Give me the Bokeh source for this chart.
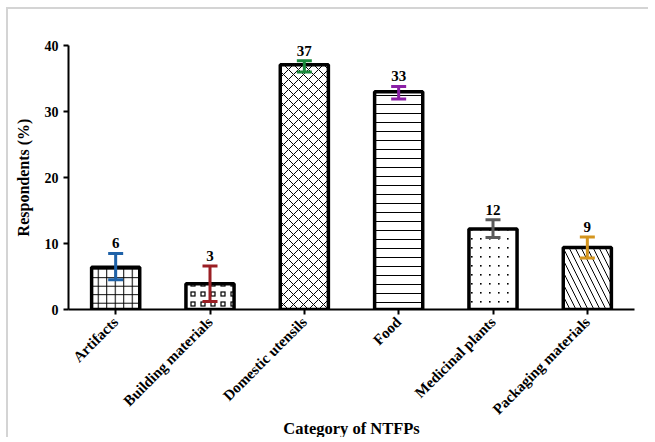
import math
from urllib.parse import quote
from bokeh.plotting import figure
from bokeh.models import ColumnDataSource, FactorRange, Range1d, Title, FixedTicker, ImageURLTexture
from bokeh.core.properties import value
from bokeh.embed import file_html
from bokeh.resources import INLINE

categories = ["Artifacts", "Building materials", "Domestic utensils", "Food",
              "Medicinal plants", "Packaging materials"]
means = [6.4, 3.9, 37.1, 33.0, 12.2, 9.4]
err_low = [4.5, 1.2, 36.0, 31.9, 10.9, 7.8]
err_high = [8.5, 6.6, 37.7, 33.8, 13.6, 11.0]
value_labels = ["6", "3", "37", "33", "12", "9"]
err_colors = ["#1f62a8", "#9b1f24", "#1a8a3c", "#8b1fa6", "#5a5a5a", "#d4951e"]
hatches = ["cross", "squares", "diagonal_cross", "horizontal_line", "dots", "left_diagonal_line"]
hatch_scales = [8.5, 9, 10, 9, 9, 12]
y_ticks = [0, 10, 20, 30, 40]

FONT = "Liberation Serif"


def svg_tile(inner, size):
    svg = ("<svg xmlns='http://www.w3.org/2000/svg' width='%d' height='%d'>%s</svg>"
           % (size, size, inner))
    return "data:image/svg+xml;charset=utf-8," + quote(svg)


dots_tex = ImageURLTexture(url=svg_tile("<rect x='4' y='4' width='1.6' height='1.6' fill='black'/>", 9),
                           repetition="repeat")
squares_tex = ImageURLTexture(url=svg_tile("<rect x='3' y='3' width='4' height='4' fill='white' "
                                           "stroke='black' stroke-width='1.2'/>", 10),
                              repetition="repeat")

src = ColumnDataSource(dict(cat=categories, mean=means, lo=err_low, hi=err_high,
                            lab=value_labels, ec=err_colors, hp=hatches, hs=hatch_scales))

p = figure(x_range=FactorRange(*categories, range_padding=0, factor_padding=0),
           y_range=Range1d(0, 40), width=642, height=430,
           output_backend="svg", toolbar_location=None,
           min_border_left=60, min_border_right=16, min_border_top=36, min_border_bottom=130)
p.styles = {"margin-left": "6px", "margin-top": "7px",
            "border-left": "2px solid #d4d4d4", "border-top": "2px solid #d4d4d4"}
p.outline_line_color = None
p.grid.visible = False
p.background_fill_color = "white"
p.border_fill_color = "white"

p.vbar(x="cat", top="mean", width=0.51, source=src, fill_color="white",
       line_color="black", line_width=3.5, hatch_pattern="hp", hatch_scale="hs",
       hatch_color="black", hatch_weight=1,
       hatch_extra={"dots": dots_tex, "squares": squares_tex})

p.segment(x0="cat", y0="lo", x1="cat", y1="hi", source=src, line_color="ec", line_width=3)
p.scatter(x="cat", y="hi", marker="dash", size=15, line_width=3, line_color="ec", source=src)
p.scatter(x="cat", y="lo", marker="dash", size=15, line_width=3, line_color="ec", source=src)

p.text(x="cat", y="hi", text="lab", source=src, text_align="center", text_baseline="bottom",
       y_offset=-5, text_font=value(FONT), text_font_style="bold", text_font_size="15px",
       text_color="black")

for ax in (p.xaxis[0], p.yaxis[0]):
    ax.axis_line_width = 2
    ax.axis_line_color = "black"
    ax.major_tick_line_width = 2
    ax.major_tick_line_color = "black"
    ax.major_tick_out = 5
    ax.major_tick_in = 0
    ax.minor_tick_line_color = None
    ax.major_label_text_font = FONT
    ax.major_label_text_font_style = "bold"
    ax.major_label_text_color = "black"

p.xaxis.major_label_orientation = math.pi / 4
p.xaxis.major_label_text_font_size = "15px"
p.yaxis.ticker = FixedTicker(ticks=y_ticks)
p.yaxis.major_label_text_font_size = "14px"
p.yaxis.axis_label = "Respondents (%)"
p.yaxis.axis_label_text_font = FONT
p.yaxis.axis_label_text_font_style = "bold"
p.yaxis.axis_label_text_font_size = "16px"
p.yaxis.axis_label_text_color = "black"
p.yaxis.axis_label_standoff = 10

p.add_layout(Title(text="Category of NTFPs", align="center", standoff=-23,
                   text_font=FONT, text_font_style="bold", text_font_size="16.5px",
                   text_color="black"), "below")

open("out.html", "w").write(file_html(p, INLINE))
